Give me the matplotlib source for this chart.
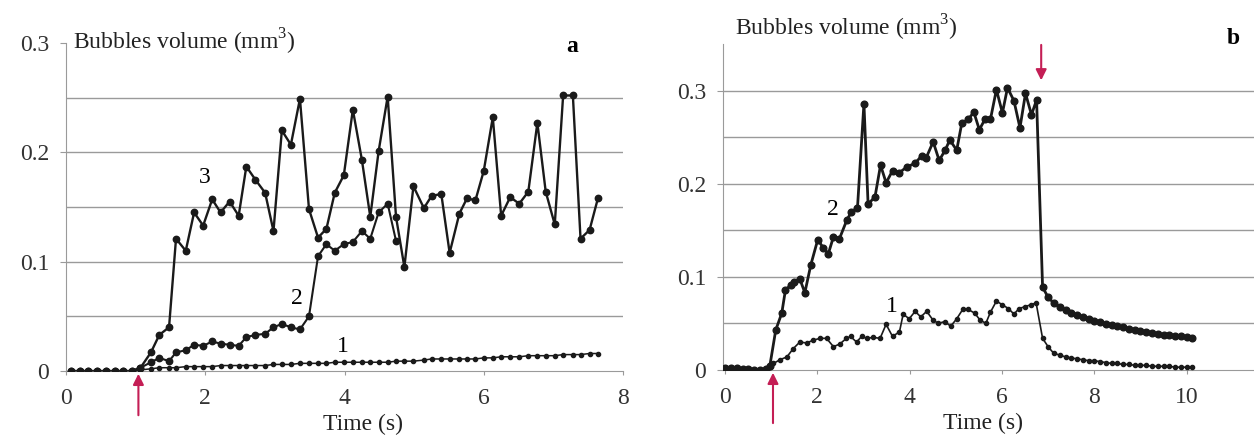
import matplotlib
matplotlib.use("Agg")
import matplotlib.pyplot as plt

plt.rcParams['font.family'] = ['Liberation Serif', 'DejaVu Serif']
plt.rcParams['mathtext.fontset'] = 'custom'
plt.rcParams['mathtext.rm'] = 'Liberation Serif'

# ---------------- Panel a data ----------------
time_a = [0.07, 0.20, 0.32, 0.45, 0.57, 0.70, 0.82, 0.95,
          1.07, 1.22, 1.34, 1.48, 1.58, 1.72, 1.84, 1.97,
          2.10, 2.22, 2.35, 2.48, 2.59, 2.72, 2.86, 2.98,
          3.10, 3.23, 3.36, 3.49, 3.62, 3.74, 3.86, 3.99,
          4.12, 4.25, 4.37, 4.49, 4.62, 4.74, 4.86, 4.99,
          5.14, 5.25, 5.39, 5.51, 5.65, 5.76, 5.88,
          6.00, 6.13, 6.25, 6.38, 6.51, 6.64, 6.77, 6.89,
          7.02, 7.14, 7.28, 7.39, 7.52, 7.64]

a_curve3 = [0, 0, 0, 0, 0, 0, 0, 0,
            0.003, 0.017, 0.033, 0.040, 0.121, 0.110, 0.145, 0.133,
            0.157, 0.145, 0.155, 0.142, 0.187, 0.175, 0.163, 0.128,
            0.220, 0.207, 0.249, 0.148, 0.122, 0.130, 0.163, 0.179,
            0.239, 0.193, 0.141, 0.201, 0.251, 0.141, 0.095, 0.169,
            0.149, 0.160, 0.162, 0.108, 0.144, 0.158, 0.156,
            0.183, 0.232, 0.142, 0.159, 0.153, 0.164, 0.227, 0.164,
            0.134, 0.252, 0.252, 0.121, 0.129, 0.158]

time_a2 = time_a[:38]
a_curve2 = [0, 0, 0, 0, 0, 0, 0, 0,
            0.003, 0.008, 0.012, 0.009, 0.017, 0.019, 0.024, 0.023,
            0.027, 0.025, 0.024, 0.023, 0.031, 0.033, 0.034, 0.040,
            0.043, 0.040, 0.038, 0.050, 0.105, 0.116, 0.110, 0.116,
            0.118, 0.128, 0.121, 0.145, 0.153, 0.119]

a_curve1 = [0, 0, 0, 0, 0, 0, 0, 0,
            0.001, 0.002, 0.003, 0.003, 0.003, 0.004, 0.004, 0.004,
            0.004, 0.005, 0.005, 0.005, 0.005, 0.005, 0.005, 0.006,
            0.006, 0.006, 0.007, 0.007, 0.007, 0.007, 0.008, 0.008,
            0.008, 0.008, 0.008, 0.008, 0.008, 0.009, 0.009, 0.009,
            0.010, 0.011, 0.011, 0.011, 0.011, 0.011, 0.011,
            0.012, 0.012, 0.013, 0.013, 0.013, 0.014, 0.014, 0.014,
            0.014, 0.015, 0.015, 0.015, 0.016, 0.016]

# ---------------- Panel b data ----------------
time_b2 = [0.00, 0.12, 0.25, 0.38, 0.50, 0.62, 0.75, 0.88, 0.97,
           1.10, 1.23, 1.31, 1.42, 1.50, 1.62, 1.73, 1.86,
           2.01, 2.13, 2.24, 2.35, 2.48, 2.64, 2.74, 2.87,
           3.01, 3.10, 3.25, 3.37, 3.49, 3.63, 3.78, 3.94,
           4.12, 4.26, 4.36, 4.51, 4.64, 4.77, 4.87,
           5.02, 5.13, 5.27, 5.39, 5.51, 5.63, 5.75, 5.88,
           6.01, 6.12, 6.26, 6.39, 6.51, 6.64, 6.75, 6.88,
           7.00, 7.12, 7.25, 7.38, 7.50, 7.62, 7.75, 7.88,
           8.00, 8.12, 8.25, 8.38, 8.50, 8.62, 8.75, 8.88,
           9.00, 9.12, 9.25, 9.38, 9.50, 9.62, 9.75, 9.88,
           10.00, 10.12]
b_curve2 = [0.002, 0.002, 0.002, 0.001, 0.001, 0.000, 0.000, 0.001, 0.004,
            0.043, 0.061, 0.086, 0.091, 0.095, 0.098, 0.083, 0.113,
            0.140, 0.131, 0.125, 0.143, 0.141, 0.161, 0.170, 0.174,
            0.286, 0.178, 0.186, 0.220, 0.201, 0.214, 0.212, 0.218,
            0.222, 0.230, 0.228, 0.245, 0.225, 0.236, 0.247,
            0.236, 0.265, 0.269, 0.277, 0.258, 0.269, 0.269, 0.301,
            0.276, 0.303, 0.289, 0.260, 0.297, 0.274, 0.290, 0.089,
            0.078, 0.072, 0.068, 0.064, 0.061, 0.059, 0.057, 0.055,
            0.053, 0.051, 0.049, 0.048, 0.047, 0.046, 0.044, 0.043,
            0.042, 0.041, 0.040, 0.039, 0.038, 0.038, 0.037, 0.036,
            0.035, 0.034]

time_b1 = [0.00, 0.12, 0.25, 0.38, 0.50, 0.62, 0.75, 0.88, 0.97,
           1.05, 1.19, 1.34, 1.48, 1.62, 1.77, 1.91,
           2.06, 2.20, 2.35, 2.49, 2.63, 2.72, 2.85, 2.96,
           3.07, 3.21, 3.36, 3.49, 3.63, 3.78, 3.86, 3.99,
           4.12, 4.24, 4.37, 4.50, 4.62, 4.76, 4.89,
           5.02, 5.15, 5.27, 5.41, 5.52, 5.65, 5.75, 5.88,
           6.01, 6.14, 6.26, 6.37, 6.50, 6.62, 6.74, 6.88,
           7.00, 7.12, 7.25, 7.38, 7.50, 7.62, 7.75, 7.88,
           8.00, 8.12, 8.25, 8.38, 8.50, 8.62, 8.75, 8.88,
           9.00, 9.12, 9.25, 9.38, 9.50, 9.62, 9.75, 9.88,
           10.00, 10.12]
b_curve1 = [0.002, 0.002, 0.002, 0.001, 0.001, 0.000, 0.000, 0.001, 0.003,
            0.007, 0.011, 0.014, 0.023, 0.030, 0.029, 0.032,
            0.034, 0.034, 0.025, 0.028, 0.034, 0.036, 0.030, 0.036,
            0.034, 0.035, 0.034, 0.049, 0.036, 0.041, 0.060, 0.055,
            0.063, 0.057, 0.063, 0.054, 0.050, 0.052, 0.047,
            0.055, 0.065, 0.065, 0.061, 0.054, 0.050, 0.062, 0.074,
            0.070, 0.066, 0.060, 0.066, 0.068, 0.070, 0.072, 0.034,
            0.025, 0.018, 0.016, 0.014, 0.013, 0.012, 0.011, 0.010,
            0.010, 0.009, 0.008, 0.007, 0.007, 0.006, 0.006, 0.005,
            0.005, 0.005, 0.004, 0.004, 0.004, 0.004, 0.003, 0.003,
            0.003, 0.003]

xticks_a = [0, 2, 4, 6, 8]
xticks_b = [0, 2, 4, 6, 8, 10]
yticks = [0, 0.1, 0.2, 0.3]
ytick_labels = ['0', '0.1', '0.2', '0.3']
grid_a = [0.05, 0.1, 0.15, 0.2, 0.25]
grid_b = [0.05, 0.1, 0.15, 0.2, 0.25, 0.3]

W, H = 1254, 446
fig = plt.figure(figsize=(W / 100, H / 100), dpi=100)
fig.patch.set_facecolor('white')

def px_axes(x0, x1, y_top, y_bot):
    return fig.add_axes([x0 / W, (H - y_bot) / H, (x1 - x0) / W, (y_bot - y_top) / H])

def ftext(x, y, s, **kw):
    fig.text(x / W, 1 - y / H, s, **kw)

GRID = '#9a9a9a'
ARROW = '#c41e55'
INK = '#1a1a1a'

def style(ax, grid_vals, xticks):
    for s in ['top', 'right']:
        ax.spines[s].set_visible(False)
    ax.spines['left'].set_color(GRID)
    ax.spines['bottom'].set_color(GRID)
    for g in grid_vals:
        ax.axhline(g, color=GRID, lw=1.0, zorder=0)
    ax.set_xticks(xticks)
    ax.set_yticks(yticks)
    ax.set_yticklabels(ytick_labels)
    ax.tick_params(axis='y', length=4, color=GRID, pad=8, labelsize=17, labelcolor='#333333')
    ax.tick_params(axis='x', length=3, color=GRID, pad=9, labelsize=17, labelcolor='#333333')
    ax.set_facecolor('white')

# ---- Panel a ----
axa = px_axes(66, 623, 43, 371)
axa.set_xlim(0, 8)
axa.set_ylim(0, 0.3)
style(axa, grid_a, xticks_a)
axa.plot(time_a, a_curve1, '-o', color=INK, lw=1.1, ms=3.0, zorder=3)
axa.plot(time_a2, a_curve2, '-o', color=INK, lw=1.5, ms=4.6, zorder=4)
axa.plot(time_a, a_curve3, '-o', color=INK, lw=1.7, ms=4.6, zorder=5)
axa.set_xlabel('Time (s)', fontsize=17, labelpad=4, color='#222222')
axa.xaxis.set_label_coords(0.533, -0.13)
ftext(73, 42, 'Bubbles volume (mm$^{\\mathregular{3}}$)', fontsize=17,
      va='center', ha='left', color='#222222')
ftext(572, 46, 'a', fontsize=17, fontweight='bold', va='center', ha='center')
axa.text(2.0, 0.177, '3', fontsize=17, ha='center', va='center')
axa.text(3.32, 0.066, '2', fontsize=17, ha='center', va='center')
axa.text(3.98, 0.022, '1', fontsize=17, ha='center', va='center')
axa.annotate('', xy=(1.04, 0.0), xytext=(1.04, -0.043),
             arrowprops=dict(arrowstyle='-|>', color=ARROW, lw=1.5, mutation_scale=16),
             annotation_clip=False)

# ---- Panel b ----
axb = px_axes(723, 1254, 44, 370)
axb.set_xlim(-0.043, 11.46)
axb.set_ylim(0, 0.35)
style(axb, grid_b, xticks_b)
axb.plot(time_b1, b_curve1, '-o', color=INK, lw=1.2, ms=3.0, zorder=3)
axb.plot(time_b2, b_curve2, '-o', color=INK, lw=2.0, ms=4.8, zorder=4)
axb.set_xlabel('Time (s)', fontsize=17, labelpad=4, color='#222222')
axb.xaxis.set_label_coords(0.49, -0.13)
ftext(735, 28, 'Bubbles volume (mm$^{\\mathregular{3}}$)', fontsize=17,
      va='center', ha='left', color='#222222')
ftext(1233, 38, 'b', fontsize=17, fontweight='bold', va='center', ha='center')
axb.text(2.34, 0.172, '2', fontsize=17, ha='center', va='center')
axb.text(3.62, 0.068, '1', fontsize=17, ha='center', va='center')
axb.annotate('', xy=(1.04, 0.0), xytext=(1.04, -0.06),
             arrowprops=dict(arrowstyle='-|>', color=ARROW, lw=1.5, mutation_scale=16),
             annotation_clip=False)
axb.annotate('', xy=(6.85, 0.308), xytext=(6.85, 0.352),
             arrowprops=dict(arrowstyle='-|>', color=ARROW, lw=1.5, mutation_scale=16),
             annotation_clip=False)

fig.savefig('out.png', dpi=100, facecolor='white')
